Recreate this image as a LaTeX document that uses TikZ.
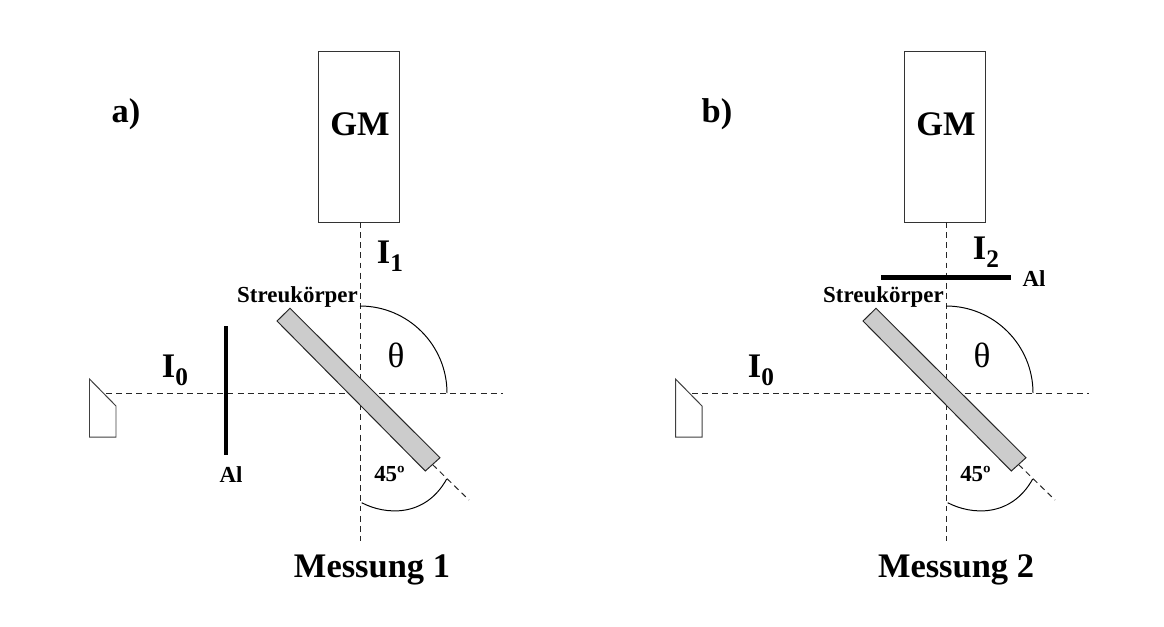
\documentclass[tikz,border=0pt]{standalone}
\usepackage{fontspec}
\setmainfont{Liberation Serif}
\usepackage{tikz}
\usetikzlibrary{
  positioning,
  calc
}
\definecolor{bodygray}{RGB}{204,204,204}
\newcommand{\intens}[1]{I\raisebox{-5.9pt}{\fontsize{18}{18}\selectfont #1}}
\tikzset{
  every node/.style={inner sep=0pt, outer sep=0pt},
  detector/.style={draw=black!80, fill=white, line width=0.7pt, minimum width=57pt, minimum height=121pt},
  beam/.style={draw=black!85, line width=0.7pt, dash pattern=on 4.2pt off 3pt},
  angle/.style={draw=black, line width=0.7pt},
  foil/.style={draw=black, line width=3.2pt},
  big/.style={font=\fontsize{24.5}{24.5}\selectfont\bfseries},
  small/.style={font=\fontsize{16.3}{16.3}\selectfont\bfseries}
}
% one measuring set-up, without the foil
\newcommand{\setup}[4]{
  \coordinate (origin) at (360,393);
  \coordinate (beamstart) at (106,393);
  \coordinate (beamend) at (503,393);
  \coordinate (bottom) at (360,541);
  \coordinate (tail) at (469,500);
  \coordinate (endmid) at (432.5,464.5);
  \node[detector] (gm) at (359,137) {};
  \draw[beam] (gm.south -| origin) -- (bottom);
  \draw[beam] (beamstart) -- (beamend);
  \draw[beam] (endmid) -- (tail);
  \draw[draw=black!85, line width=0.7pt, fill=bodygray] (290,308.3) -- (277,321) -- (425.3,471) -- (440,457.7) -- cycle;
  \draw[draw=black!75, line width=0.7pt, fill=white] (89.5,379) -- (116,406) -- (116,437) -- (89.5,437) -- cycle;
  \draw[angle] (360,306) .. controls (408,306) and (447,345) .. (447,393);
  \draw[angle] (361.7,502.7) .. controls (385,515) and (425,518) .. (446.7,479);
  \node[big] (gmlabel) at (360,124) {GM};
  \node[big] (mark) at (#2,114) {#1};
  \node[big] (izero) at (175,370) {\intens{0}};
  \node[font=\fontsize{25}{25}\selectfont] (theta) at (396,355.5) {θ};
  \node[small] (angle45) at (389.5,473.5) {45º};
  \node[small] (body) at (297.5,297) {Streukörper};
  \node[big] (title) at (#3,569.5) {Messung #4};
}
\begin{document}
\begin{tikzpicture}[x=0.025cm, y=-0.025cm]
  \useasboundingbox (0,0) rectangle (1164,626);
  % left set-up
  \begin{scope}[name prefix=a-]
    \setup{a)}{126}{372}{1}
    \coordinate (foiltop) at (226,326);
    \coordinate (foilbot) at (226,455);
    \draw[foil] (foiltop) -- (foilbot);
    \node[small] (al) at (231,474.5) {Al};
    \node[big] (ione) at (390,256) {\intens{1}};
  \end{scope}
  % right set-up
  \begin{scope}[shift={(586,0)}, name prefix=b-]
    \setup{b)}{131}{370}{2}
    \coordinate (foilleft) at (295,277.5);
    \coordinate (foilright) at (425,277.5);
    \draw[foil] (foilleft) -- (foilright);
    \node[small] (al) at (448,278.5) {Al};
    \node[big] (itwo) at (400,252.5) {\intens{2}};
  \end{scope}
\end{tikzpicture}
\end{document}
